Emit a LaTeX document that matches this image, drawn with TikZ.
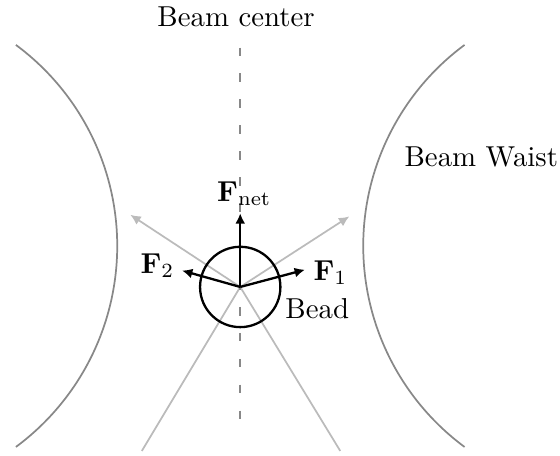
\documentclass[tikz,border=0pt]{standalone}
\usepackage{amsmath}
\usetikzlibrary{arrows.meta}
\definecolor{cink}{HTML}{000000}
\definecolor{cwaist}{HTML}{888888}
\definecolor{cray}{HTML}{BBBBBB}

\begin{document}
\begin{tikzpicture}[
    >={Latex[length=3.6pt,width=3.4pt]},
    waist/.style={draw=cwaist, line width=0.6pt},
    ray/.style={->, draw=cray, line width=0.6pt},
    axis/.style={draw=cwaist, line width=0.6pt, dash pattern=on 3pt off 6pt},
    force/.style={->, draw=cink, line width=0.8pt},
    bead/.style={draw=cink, line width=0.8pt, circle, inner sep=0pt, minimum size=9.8mm},
    lbl/.style={font=\normalsize, text=cink},
  ]
  \useasboundingbox (-2.93,-2.05) rectangle (3.9,3.5);

  % beam waist
  \coordinate (wL) at (-2.736,2.952);
  \coordinate (wR) at (2.736,2.952);
  \draw[waist] (wL) arc[start angle=53.5, end angle=-53.5, radius=3.05];
  \draw[waist] (wR) arc[start angle=126.5, end angle=233.5, radius=3.05];
  \node[lbl] (waistlbl) at (2.94,1.58) {Beam Waist};

  % rays through the bead
  \coordinate (O) at (0,0);
  \coordinate (inL) at (-1.2,-2);
  \coordinate (inR) at (1.22,-2);
  \coordinate (outL) at (-1.34,0.88);
  \coordinate (outR) at (1.33,0.86);
  \draw[ray] (inL) -- (O) -- (outR);
  \draw[ray] (inR) -- (O) -- (outL);

  % beam axis
  \coordinate (axtop) at (0,2.92);
  \coordinate (axbot) at (0,-1.8);
  \draw[axis] (axtop) -- (axbot);
  \node[lbl] (axislbl) at (-0.05,3.29) {Beam center};

  % bead and forces
  \node[bead] (bead) at (O) {};
  \node[lbl] (beadlbl) at (0.94,-0.27) {Bead};
  \coordinate (tnet) at (0,0.9);
  \coordinate (t1) at (0.79,0.21);
  \coordinate (t2) at (-0.71,0.2);
  \draw[force] (bead.center) -- (tnet);
  \draw[force] (bead.center) -- (t1);
  \draw[force] (bead.center) -- (t2);
  \node[lbl] (fnet) at (0.05,1.135) {$\mathbf{F}_\mathrm{net}$};
  \node[lbl] (f1) at (1.10,0.175) {$\mathbf{F}_1$};
  \node[lbl] (f2) at (-1.01,0.26) {$\mathbf{F}_2$};
\end{tikzpicture}
\end{document}
